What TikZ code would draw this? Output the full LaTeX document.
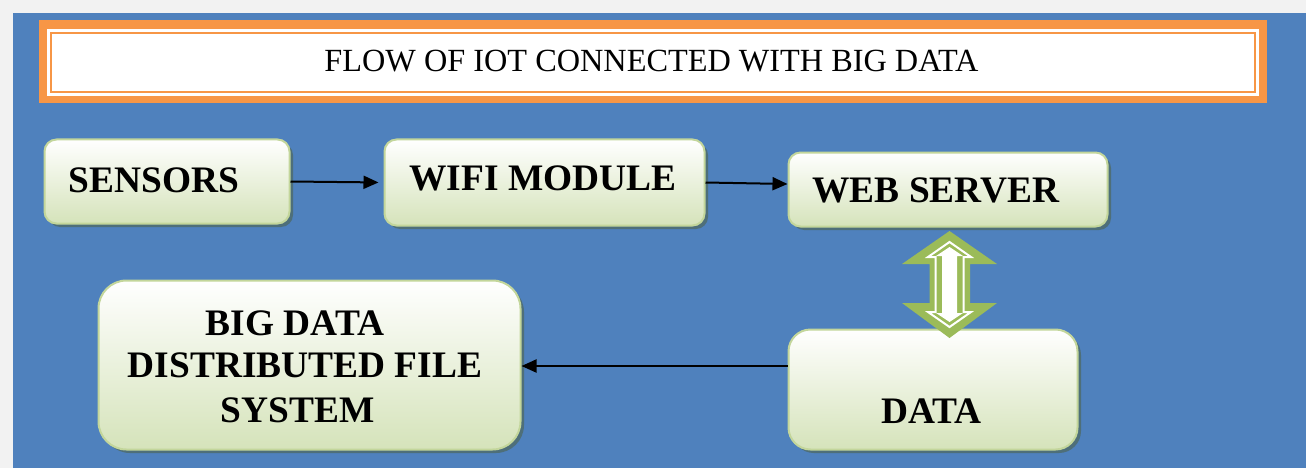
\documentclass[tikz,border=0pt]{standalone}
\usepackage{fontspec}
\setmainfont{Liberation Serif}
\usetikzlibrary{shadows,arrows.meta}
\definecolor{graybg}{HTML}{F2F2F2}
\definecolor{bgblue}{HTML}{4F81BD}
\definecolor{orng}{HTML}{F79646}
\definecolor{boxline}{HTML}{C3D69B}
\definecolor{boxg}{HTML}{D5E3BA}
\definecolor{shadowc}{HTML}{4E6F79}
\definecolor{arrg}{HTML}{9BBB59}
\begin{document}
\begin{tikzpicture}[x=1pt,y=-1pt,
  box/.style={rectangle, draw=boxline, line width=2pt, top color=white, bottom color=boxg,
    drop shadow={shadow xshift=3.5pt, shadow yshift=-3.5pt, fill=shadowc, opacity=1}, inner sep=0pt},
  lbl/.style={font=\fontsize{37.4}{42}\selectfont\bfseries, inner sep=0pt, text=black},
  conn/.style={line width=2pt, -{Triangle[length=15pt,width=13pt]}}]
\useasboundingbox (0,0) rectangle (1306,468);
\fill[graybg] (0,0) rectangle (1306,468);
\fill[bgblue] (13,13) rectangle (1306,468);
% title frame
\fill[orng] (39,20) rectangle (1267,103);
\fill[white] (47,29) rectangle (1259,96);
\draw[orng, line width=2pt] (51,33) rectangle (1255,92);
\node[inner sep=0pt, anchor=base, font=\fontsize{32.3}{36}\selectfont] (title) at (651.5,72) {FLOW OF IOT CONNECTED WITH BIG DATA};
% boxes
\node[box, minimum width=245pt, minimum height=84pt, rounded corners=12pt] (sensors) at (167,181.5) {};
\node[box, minimum width=320pt, minimum height=86pt, rounded corners=12pt] (wifi) at (544.5,182.5) {};
\node[box, minimum width=319pt, minimum height=74pt, rounded corners=12pt] (web) at (948,189.5) {};
\node[box, minimum width=422pt, minimum height=169pt, rounded corners=28pt] (big) at (309.5,365) {};
\node[box, minimum width=289pt, minimum height=120pt, rounded corners=22pt] (data) at (933,389.5) {};
% labels
\node[lbl, anchor=base] (tsens) at (154,192) {SENSORS};
\node[lbl, anchor=base] (twifi) at (543,190) {WIFI MODULE};
\node[lbl, anchor=base] (tweb) at (936,202) {WEB SERVER};
\node[lbl, anchor=base] (tbig1) at (295,335) {BIG DATA};
\node[lbl, anchor=base] (tbig2) at (305,377) {DISTRIBUTED FILE};
\node[lbl, anchor=base] (tbig3) at (297.5,422) {SYSTEM};
\node[lbl, anchor=base] (tdata) at (931.5,423) {DATA};
% connectors
\draw[conn, shorten >=5pt] (sensors.east) -- (wifi.west);
\draw[conn] (wifi.east) -- ([yshift=5.5pt]web.west);
\draw[conn] ([yshift=23.5pt]data.west) -- ([yshift=-1pt]big.east);
% double arrow
\fill[arrg] (949.5,231) -- (997,264) -- (970,264) -- (970,303) -- (997,303) -- (949.5,338)
  -- (902,303) -- (929.5,303) -- (929.5,264) -- (902,264) -- cycle;
\draw[white, line width=2pt, line join=miter] (949.5,242) -- (971,257) -- (963.5,257) -- (963.5,312) -- (971,312) -- (949.5,327)
  -- (928,312) -- (935.5,312) -- (935.5,257) -- (928,257) -- cycle;
\fill[white] (949.5,247) -- (963,256) -- (957,256) -- (957,313) -- (963,313) -- (949.5,322)
  -- (936,313) -- (942,313) -- (942,256) -- (936,256) -- cycle;
\end{tikzpicture}
\end{document}
